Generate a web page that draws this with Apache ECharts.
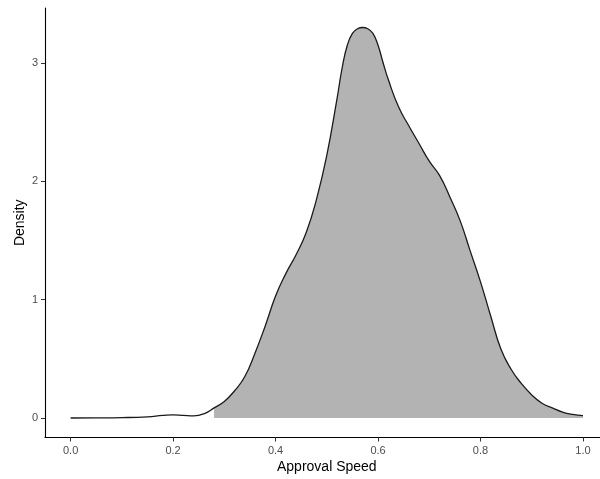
<!DOCTYPE html>
<html>
<head>
<meta charset="utf-8">
<script src="https://cdn.jsdelivr.net/npm/echarts@6/dist/echarts.min.js"></script>
<style>
  html, body { margin: 0; padding: 0; background: #fff; }
  #chart { width: 600px; height: 479px; }
</style>
</head>
<body>
<div id="chart"></div>
<script>
// Kernel density estimate of approval speed
const speed = [0.00, 0.05, 0.10, 0.15, 0.18, 0.20, 0.22, 0.24, 0.26, 0.28, 0.30, 0.32, 0.34,
  0.36, 0.38, 0.40, 0.42, 0.44, 0.46, 0.48, 0.50, 0.52, 0.53, 0.54, 0.55, 0.56, 0.57, 0.58,
  0.59, 0.60, 0.61, 0.62, 0.64, 0.66, 0.68, 0.70, 0.72, 0.74, 0.76, 0.78, 0.80, 0.82, 0.84,
  0.86, 0.88, 0.90, 0.92, 0.94, 0.96, 0.98, 1.00];
const density = [0.000, 0.001, 0.003, 0.010, 0.022, 0.027, 0.022, 0.018, 0.035, 0.085, 0.14, 0.23, 0.35,
  0.55, 0.78, 1.03, 1.22, 1.38, 1.57, 1.85, 2.22, 2.70, 2.96, 3.15, 3.25, 3.29, 3.30, 3.29,
  3.25, 3.15, 3.00, 2.86, 2.63, 2.47, 2.32, 2.17, 2.05, 1.87, 1.67, 1.41, 1.15, 0.86, 0.58,
  0.41, 0.29, 0.195, 0.125, 0.085, 0.05, 0.03, 0.02];
// shaded region begins here
const shadeFrom = 0.28;

const xTicks = [0, 0.2, 0.4, 0.6, 0.8, 1.0];
const yTicks = [0, 1, 2, 3];

const curve = speed.map((x, i) => [x, density[i]]);
const shaded = curve.filter(p => p[0] >= shadeFrom - 1e-9);

const chart = echarts.init(document.getElementById('chart'), null, { renderer: 'canvas' });

const axisFont = 'Liberation Sans, Arial, Helvetica, sans-serif';

chart.setOption({
  animation: false,
  backgroundColor: '#ffffff',
  grid: { left: 45, top: 8, width: 563.6, height: 429.5, containLabel: false, outerBoundsMode: 'none' },
  xAxis: {
    type: 'value',
    min: -0.05,
    max: 1.05,
    name: 'Approval Speed',
    nameLocation: 'middle',
    nameGap: 23,
    nameMoveOverlap: false,
    nameTextStyle: { color: '#000', fontSize: 14, fontFamily: axisFont },
    splitLine: { show: false },
    axisLine: { show: true, onZero: false, lineStyle: { color: '#000', width: 1.1 } },
    axisTick: { show: true, length: 4, customValues: xTicks, lineStyle: { color: '#333', width: 1 } },
    axisLabel: {
      customValues: xTicks,
      formatter: v => v.toFixed(1),
      color: '#4d4d4d', fontSize: 11, fontFamily: axisFont, margin: 8
    }
  },
  yAxis: {
    type: 'value',
    min: -0.165,
    max: 3.465,
    name: 'Density',
    nameLocation: 'middle',
    nameGap: 18,
    nameMoveOverlap: false,
    nameRotate: 90,
    nameTextStyle: { color: '#000', fontSize: 14, fontFamily: axisFont },
    splitLine: { show: false },
    axisLine: { show: true, onZero: false, lineStyle: { color: '#000', width: 1.1 } },
    axisTick: { show: true, length: 4, customValues: yTicks, lineStyle: { color: '#333', width: 1 } },
    axisLabel: {
      customValues: yTicks,
      formatter: v => String(v),
      color: '#4d4d4d', fontSize: 11, fontFamily: axisFont, margin: 7
    }
  },
  series: [
    {
      type: 'line',
      data: shaded,
      smooth: 0.5,
      showSymbol: false,
      lineStyle: { width: 0, opacity: 0 },
      areaStyle: { color: '#b3b3b3', opacity: 1, origin: 0 },
      z: 1
    },
    {
      type: 'line',
      data: curve,
      smooth: 0.5,
      showSymbol: false,
      lineStyle: { color: '#1a1a1a', width: 1.3 },
      z: 2
    }
  ]
});
</script>
</body>
</html>
